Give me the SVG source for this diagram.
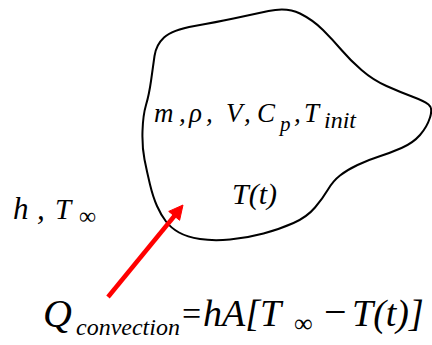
<svg xmlns="http://www.w3.org/2000/svg" width="432" height="345" viewBox="0 0 432 345">
<style>
.t{font-family:'Liberation Serif','Times New Roman',serif;font-style:italic;fill:#000}
.blob{fill:none;stroke:#000;stroke-width:2;stroke-linejoin:round;stroke-linecap:round}
.arrow{stroke:#ff0000;stroke-width:4.5;fill:none}
</style>
<rect width="432" height="345" fill="#fff"/>
<g id="body">
<path class="blob" d="M164,37.5 Q172,30 194.5,26 Q217,22 233.5,18.5 Q250,15 268.5,11 Q287,7 300,13.5 Q313,20 323,30 Q333,40 341.5,50 Q350,60 361.5,70 Q373,80 386.5,86 Q400,92 412,96.5 Q424,101 428.5,104.5 Q433,108 430,117.5 Q427,127 420,135 Q413,143 401.5,148 Q390,153 379,156.5 Q368,160 357.5,165 Q347,170 340,175.5 Q333,181 328,189.5 Q323,198 315,207.5 Q307,217 293.5,223 Q280,229 263.5,233.5 Q247,238 230,239.5 Q213,241 200,239 Q187,237 179,232.5 Q171,228 166,221.5 Q161,215 157,206 Q153,197 150,184.5 Q147,172 144.5,159.5 Q142,147 142.5,131 Q143,115 146,105 Q149,95 151,81 Q153,67 154.5,56 Q156,45 164,37.5 Z"/>
<text class="t" font-size="27" y="122"><tspan x="154">m</tspan><tspan x="179">,</tspan><tspan x="189">ρ</tspan><tspan x="206">,</tspan><tspan x="226">V</tspan><tspan x="244">,</tspan><tspan x="257">C</tspan><tspan x="280" y="131" font-size="21">p</tspan><tspan x="294" y="122">,</tspan><tspan x="304">T</tspan><tspan x="324" y="128" font-size="24">init</tspan></text>
<text class="t" font-size="30" x="232" y="204">T(t)</text>
</g>
<g id="ambient">
<text class="t" y="219"><tspan x="13" font-size="31">h</tspan><tspan x="37" font-size="31">,</tspan><tspan x="55" font-size="29">T</tspan><tspan x="79" y="224" font-size="24" font-style="normal">∞</tspan></text>
</g>
<g id="connectors">
<line class="arrow" x1="108" y1="297" x2="176" y2="214"/>
<polygon points="183,205 179.6,220.3 168.7,211.4" fill="#ff0000" stroke="#ff0000" stroke-width="1"/>
</g>
<g id="equation">
<text class="t" y="327"><tspan x="43" font-size="40">Q</tspan><tspan x="76" y="335" font-size="24">convection</tspan><tspan x="182" y="325" font-size="34" font-style="normal">=</tspan><tspan x="203" y="326" font-size="38">hA[T</tspan><tspan x="294" y="332" font-size="26" font-style="normal">∞</tspan><tspan x="324" y="325" font-size="40" font-style="normal">−</tspan><tspan x="352" y="326" font-size="38">T(t)]</tspan></text>
</g>
</svg>
